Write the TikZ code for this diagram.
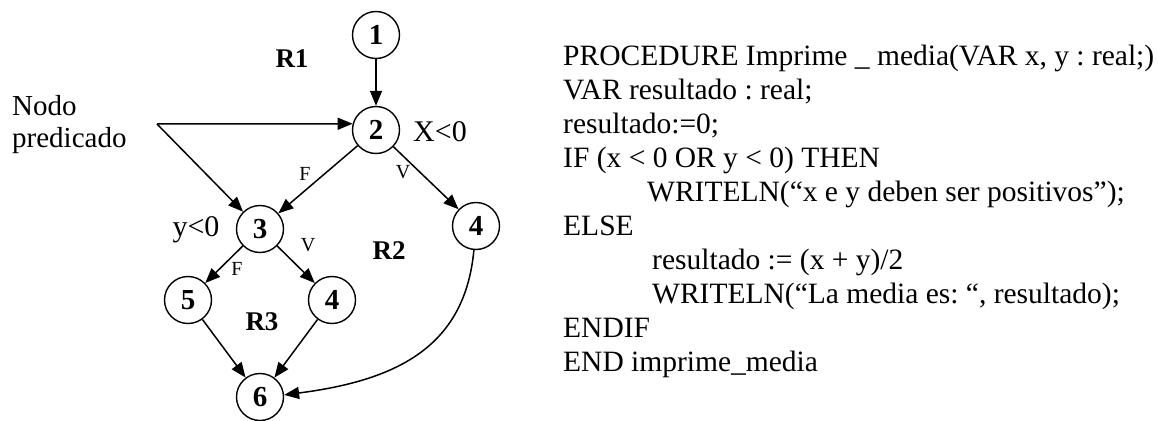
\documentclass[tikz,border=0pt]{standalone}
\usepackage{fontspec}
\setmainfont{Liberation Serif}
\usetikzlibrary{arrows.meta}
\frenchspacing
\begin{document}
\begin{tikzpicture}[x=1pt,y=-1pt,
  vert/.style={draw,circle,minimum size=47pt,inner sep=0pt,line width=1.4pt,
               font=\fontsize{29}{32}\selectfont\bfseries},
  arr/.style={-{Triangle[length=15pt,width=12pt]},line width=1.5pt},
  region/.style={font=\fontsize{27}{30}\selectfont\bfseries},
  cond/.style={font=\fontsize{30}{32}\selectfont},
  branch/.style={font=\fontsize{20}{22}\selectfont}]
\path[use as bounding box] (0,0) rectangle (1158,420);

% flow graph vertices
\node[vert] (n1)  at (376,35)  {1};
\node[vert] (n2)  at (376,130) {2};
\node[vert] (n3)  at (260,229) {3};
\node[vert] (n4r) at (476,226) {4};
\node[vert] (n5)  at (188,300) {5};
\node[vert] (n4m) at (332,300) {4};
\node[vert] (n6)  at (260,397) {6};

% edges
\draw[arr] (n1) -- (n2);
\draw[arr] (n2) -- (n3);
\draw[arr] (n2) -- (n4r);
\draw[arr] (n3) -- (n5);
\draw[arr] (n3) -- (n4m);
\draw[arr] (n5) -- (n6);
\draw[arr] (n4m) -- (n6);
\draw[arr] (n4r.265) .. controls (465,345) and (400,380) .. (n6.5);

% predicate-node callout (anchored on the baseline of its last line)
\node[anchor=base west,align=left,inner sep=0pt,font=\fontsize{29}{32}\selectfont]
  (pred) at (12,147) {Nodo\\predicado};
\coordinate (P) at (157,124);
\draw[arr] (P) -- (n2.165);
\draw[arr] (P) -- (n3);

% regions
\node[region] (r1) at (292,59)  {R1};
\node[region] (r2) at (389,251) {R2};
\node[region] (r3) at (262,322) {R3};

% conditions and branch labels
\node[cond] (c2) at (440,132) {X<0};
\node[cond] (c3) at (196,230) {y<0};
\node[branch] (f1) at (305,174) {F};
\node[branch] (v1) at (403,172) {V};
\node[branch] (v2) at (308,245) {V};
\node[branch] (f2) at (237,269) {F};

% procedure listing (anchored on the baseline of its last line)
\node[anchor=base west,align=left,inner sep=0pt,font=\fontsize{29.5}{33.9}\selectfont]
  (code) at (563,371) {%
PROCEDURE Imprime \_ media(VAR x, y : real;)\\
VAR resultado : real;\\
resultado:=0;\\
IF (x < 0 OR y < 0) THEN\\
\hspace*{84pt}WRITELN(“x e y deben ser positivos”);\\
ELSE\\
\hspace*{89pt}resultado := (x + y)/2\\
\hspace*{89pt}WRITELN(“La media es: “, resultado);\\
ENDIF\\
END imprime\_media};
\end{tikzpicture}
\end{document}
